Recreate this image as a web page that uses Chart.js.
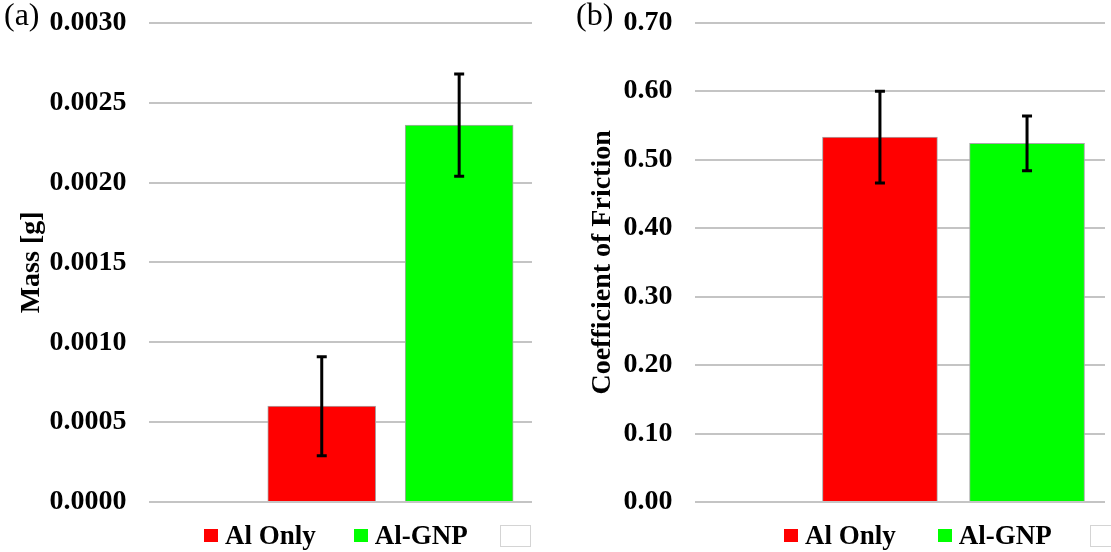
<!DOCTYPE html>
<html>
<head>
<meta charset="utf-8">
<script src="https://cdn.jsdelivr.net/npm/chart.js@4.4.1/dist/chart.umd.min.js"></script>
<style>
  body { margin: 0; background: #fff; }
  #wrap { position: relative; width: 1111px; height: 552px; overflow: hidden; font-family: "Liberation Serif", "Times New Roman", serif; }
  .panel { position: absolute; top: -16px; height: 568px; }
  .tag { position: absolute; top: -4px; font-size: 32px; color: #000; }
  .legend { position: absolute; top: 520px; width: 400px; display: flex; align-items: center; white-space: nowrap; font-size: 27px; font-weight: bold; color: #000; }
  .legend .box { flex: none; width: 14px; height: 13px; margin-right: 7px; }
  .legend .item { flex: none; display: flex; align-items: center; }
  .legend .blank { flex: none; width: 29px; height: 20px; border: 1px solid #d4d4d4; background: #fff; }
</style>
</head>
<body>
<div id="wrap">
  <div class="panel" style="left:0;width:560px"><canvas id="chartA"></canvas></div>
  <div class="panel" style="left:560px;width:551px"><canvas id="chartB"></canvas></div>
  <span class="tag" style="left:4px">(a)</span>
  <span class="tag" style="left:576px">(b)</span>
  <div class="legend" id="legA" style="left:204px"></div>
  <div class="legend" id="legB" style="left:784px"></div>
</div>
<script>
// data
const categories = ['Al Only', 'Al-GNP'];
const colors = ['#ff0000', '#00ff00'];
const massVals = [0.0006, 0.00236];
const massErr = [0.00031, 0.00032];
const cofVals = [0.533, 0.524];
const cofErr = [0.067, 0.040];

const serif = '"Liberation Serif", "Times New Roman", serif';

// error bars drawn through the y scale
const errorBars = {
    id: 'errorBars',
    afterDatasetsDraw(chart, args, opts) {
        const c = chart.ctx;
        const y = chart.scales.y;
        const meta = chart.getDatasetMeta(0);
        meta.data.forEach((bar, i) => {
            const v = chart.data.datasets[0].data[i].y;
            const e = opts.err[i];
            const top = y.getPixelForValue(v + e);
            const bot = y.getPixelForValue(v - e);
            c.save();
            c.strokeStyle = '#000';
            c.lineWidth = 3;
            c.beginPath();
            c.moveTo(bar.x, top); c.lineTo(bar.x, bot);
            c.moveTo(bar.x - 5, top); c.lineTo(bar.x + 5, top);
            c.moveTo(bar.x - 5, bot); c.lineTo(bar.x + 5, bot);
            c.stroke();
            c.restore();
        });
    }
};

// legend (html), built from the categories/colours
function buildLegend(id, gap, blankGap) {
    const el = document.getElementById(id);
    categories.forEach((c, i) => {
        const item = document.createElement('div');
        item.className = 'item';
        item.style.marginRight = (i < categories.length - 1 ? gap : blankGap) + 'px';
        const box = document.createElement('div');
        box.className = 'box';
        box.style.background = colors[i];
        const txt = document.createElement('span');
        txt.textContent = c;
        item.appendChild(box);
        item.appendChild(txt);
        el.appendChild(item);
    });
    const blank = document.createElement('div');
    blank.className = 'blank';
    el.appendChild(blank);
}

function makeChart(el, vals, err, yMax, step, digits, title, thick, pad, titlePad) {
    return new Chart(document.getElementById(el), {
        type: 'bar',
        data: {
            datasets: [{
                data: categories.map((c, i) => ({ x: i + 1, y: vals[i] })),
                backgroundColor: colors,
                borderColor: '#a8a8a8',
                borderWidth: 1,
                barThickness: thick
            }]
        },
        options: {
            responsive: true,
            maintainAspectRatio: false,
            animation: false,
            layout: { padding: pad },
            scales: {
                x: { type: 'linear', min: -0.26, max: 2.53, offset: false, display: false },
                y: {
                    min: 0,
                    max: yMax,
                    border: { display: false },
                    grid: { color: '#c4c4c4', lineWidth: 2, drawTicks: false },
                    ticks: {
                        stepSize: step,
                        padding: 22,
                        color: '#000',
                        font: { family: serif, size: 28, weight: 'bold' },
                        callback: v => v.toFixed(digits)
                    },
                    title: {
                        display: true,
                        text: title,
                        color: '#000',
                        padding: titlePad,
                        font: { family: serif, size: 28, weight: 'bold' }
                    }
                }
            },
            plugins: {
                tooltip: { enabled: false },
                legend: { display: false },
                errorBars: { err: err }
            }
        },
        plugins: [errorBars]
    });
}

buildLegend('legA', 38, 32);
buildLegend('legB', 42, 38);

makeChart('chartA', massVals, massErr, 0.003, 0.0005, 4, 'Mass [g]', 108,
    { left: 11, right: 28, top: -5, bottom: 50 }, { top: 4, bottom: -21 });
makeChart('chartB', cofVals, cofErr, 0.7, 0.1, 2, 'Coefficient of Friction', 115,
    { left: 22, right: 6, top: -5, bottom: 50 }, { top: 4, bottom: -18 });
</script>
</body>
</html>
